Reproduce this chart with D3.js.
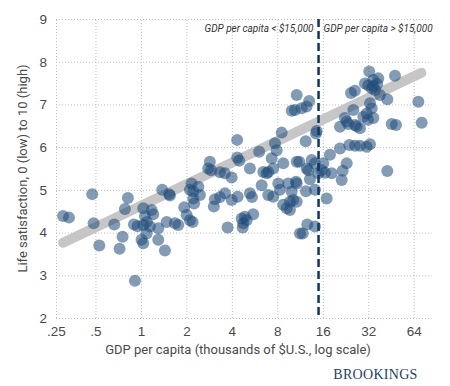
<!DOCTYPE html>
<html>
<head>
<meta charset="utf-8">
<script src="https://cdn.jsdelivr.net/npm/d3@7"></script>
<style>
  body { margin: 0; background: #fff; }
  svg { display: block; font-family: Roboto, sans-serif; }
  .grid line { stroke: #bdbdbd; stroke-dasharray: 1,2; }
  .grid text { fill: #4a4a4a; font-size: 13.5px; }
</style>
</head>
<body>
<div id="viz"></div>
<script>
// GDP per capita, thousands of $US (log scale)
var gdp = [
  0.305, 0.334, 0.476, 0.486, 0.530, 0.666, 0.722, 0.756, 0.784, 0.820,
  0.899, 0.951, 0.913, 1.01, 1.036, 1.036, 1.063, 1.096, 1.036, 1.091,
  1.147, 1.177, 1.206, 1.302, 1.302, 1.442, 1.384, 1.54, 1.556, 1.48,
  1.68, 1.767, 1.936, 2.008, 2.11, 2.20, 2.166, 2.11, 2.22, 2.40,
  2.22, 2.25, 2.46, 2.86, 2.79, 2.91, 3.34, 3.60, 3.99, 4.34,
  4.34, 4.48, 5.27, 6.07, 8.55, 7.72, 7.92, 7.34, 8.76, 7.52,
  6.97, 6.46, 6.80, 6.30, 8.12, 8.33, 9.45, 10.75, 10.63, 3.09,
  3.34, 3.04, 3.60, 3.99, 4.37, 5.27, 5.44, 6.97, 7.52, 8.76,
  9.23, 10.20, 10.75, 9.96, 3.75, 4.65, 4.88, 5.01, 5.54, 4.76,
  4.72, 11.30, 14.58, 14.42, 12.33, 11.18, 12.52, 12.83, 13.51, 14.20,
  16.12, 15.74, 14.94, 16.55, 18.33, 17.85, 20.80, 23.97, 26.14, 28.21,
  31.25, 32.87, 23.04, 21.68, 21.35, 42.78, 13.16, 10.75, 12.38, 14.20,
  9.70, 9.70, 16.98, 12.63, 14.20, 11.78, 20.80, 23.04, 26.14, 31.87,
  45.76, 48.87, 72.3, 32.5, 30.45, 32.0, 33.7, 37.3, 34.6, 36.7,
  34.6, 35.5, 38.3, 48.1, 24.6, 26.1, 42.8, 32.9, 33.7, 25.5,
  68.7, 29.7, 31.3, 34.6, 22.4, 23.6, 28.2, 26.8, 13.0, 12.5,
  11.6, 10.47, 10.75, 9.96
];
// Life satisfaction, 0 to 10
var satisfaction = [
  4.39, 4.35, 4.90, 4.22, 3.70, 4.19, 3.62, 3.90, 4.55, 4.81,
  4.19, 4.15, 2.87, 3.83, 3.75, 4.57, 4.39, 4.25, 4.18, 3.98,
  4.14, 4.53, 4.43, 4.10, 3.83, 3.58, 5.00, 4.90, 4.87, 4.25,
  4.22, 4.18, 4.59, 4.41, 4.29, 4.25, 5.15, 5.00, 4.96, 5.07,
  4.80, 4.68, 4.88, 5.66, 5.50, 5.46, 5.41, 5.39, 5.29, 6.17,
  5.76, 5.68, 5.50, 5.89, 6.34, 6.09, 5.93, 5.74, 5.62, 5.50,
  5.42, 5.42, 5.39, 5.11, 5.15, 5.00, 5.15, 5.66, 5.19, 4.78,
  4.83, 4.61, 4.92, 4.76, 4.84, 4.92, 4.83, 4.88, 4.84, 4.65,
  4.57, 4.76, 4.72, 4.96, 4.12, 4.33, 4.37, 4.29, 4.43, 4.22,
  4.12, 3.98, 6.38, 6.32, 6.14, 5.66, 5.50, 5.46, 5.70, 5.62,
  5.62, 5.46, 5.39, 5.40, 5.39, 5.82, 5.97, 6.05, 6.03, 6.03,
  6.01, 6.07, 5.62, 5.45, 5.23, 5.44, 5.25, 5.15, 4.97, 5.00,
  4.72, 4.53, 4.80, 4.19, 4.14, 3.98, 6.48, 6.60, 6.52, 6.64,
  6.54, 6.52, 6.57, 7.77, 7.49, 7.45, 7.38, 7.61, 7.57, 7.48,
  7.43, 7.34, 7.22, 7.67, 7.27, 7.32, 7.12, 7.03, 6.91, 6.87,
  7.06, 6.71, 6.79, 6.68, 6.68, 6.54, 6.44, 6.49, 7.08, 6.95,
  6.91, 6.87, 7.22, 6.85
];

// fitted trend (ends of the gray band)
var trendGdp = [0.305, 72];
var trendSat = [3.76, 7.74];

var xTicks = [0.25, 0.5, 1, 2, 4, 8, 16, 32, 64];
var xTickLabels = ['.25', '.5', '1', '2', '4', '8', '16', '32', '64'];
var yTicks = [2, 3, 4, 5, 6, 7, 8, 9];

var cutoff = 15;
var cutoffLabels = ['GDP per capita < $15,000', 'GDP per capita > $15,000'];

(function () {
  'use strict';

  var W = 450, H = 386;
  var m = { left: 56, right: 431.7, top: 19, bottom: 318 };

  var svg = d3.select('#viz')
    .append('svg')
    .attr('width', W)
    .attr('height', H);

  var x = d3.scaleLog().base(2)
    .domain([0.274, 84.2])
    .range([m.left, m.right])
    .clamp(true);

  var y = d3.scaleLinear()
    .domain([2, 9])
    .range([m.bottom, m.top]);

  // axes with dotted grid
  var gx = svg.append('g')
    .attr('class', 'grid')
    .attr('transform', 'translate(0,' + m.bottom + ')')
    .call(d3.axisBottom(x)
      .tickValues(xTicks)
      .tickFormat(function (d, i) { return xTickLabels[i]; })
      .tickSize(-(m.bottom - m.top))
      .tickPadding(8));
  gx.select('.domain').remove();

  var gy = svg.append('g')
    .attr('class', 'grid')
    .attr('transform', 'translate(' + m.left + ',0)')
    .call(d3.axisLeft(y)
      .tickValues(yTicks)
      .tickFormat(d3.format('d'))
      .tickSize(-(m.right - m.left))
      .tickPadding(9));
  gy.select('.domain').remove();

  // trend band
  svg.append('line')
    .attr('x1', x(trendGdp[0]))
    .attr('y1', y(trendSat[0]))
    .attr('x2', x(trendGdp[1]))
    .attr('y2', y(trendSat[1]))
    .style('stroke', '#c6c6c6')
    .style('stroke-width', 10)
    .style('stroke-linecap', 'round');

  // countries
  svg.append('g')
    .selectAll('circle')
    .data(d3.range(gdp.length))
    .enter()
    .append('circle')
    .attr('cx', function (i) { return x(gdp[i]); })
    .attr('cy', function (i) { return y(satisfaction[i]); })
    .attr('r', 6)
    .style('fill', '#1d4b78')
    .style('fill-opacity', 0.55);

  // $15,000 divider
  svg.append('line')
    .attr('x1', x(cutoff))
    .attr('x2', x(cutoff))
    .attr('y1', m.top)
    .attr('y2', m.bottom)
    .style('stroke', '#0d3766')
    .style('stroke-width', 2.5)
    .style('stroke-dasharray', '8,4');

  svg.append('text')
    .attr('x', x(cutoff) - 5)
    .attr('y', 32)
    .attr('text-anchor', 'end')
    .style('font-style', 'italic')
    .style('font-size', '10px')
    .style('fill', '#333')
    .text(cutoffLabels[0]);

  svg.append('text')
    .attr('x', x(cutoff) + 5)
    .attr('y', 32)
    .style('font-style', 'italic')
    .style('font-size', '10px')
    .style('fill', '#333')
    .text(cutoffLabels[1]);

  // axis titles
  svg.append('text')
    .attr('x', 238)
    .attr('y', 354)
    .attr('text-anchor', 'middle')
    .style('font-size', '13px')
    .style('fill', '#4a4a4a')
    .text('GDP per capita (thousands of $U.S., log scale)');

  svg.append('text')
    .attr('transform', 'translate(27,' + ((m.top + m.bottom) / 2) + ') rotate(-90)')
    .attr('text-anchor', 'middle')
    .style('font-size', '13px')
    .style('fill', '#4a4a4a')
    .text('Life satisfaction, 0 (low) to 10 (high)');

  svg.append('text')
    .attr('x', 375.5)
    .attr('y', 379)
    .attr('text-anchor', 'middle')
    .style('font-family', '"Liberation Serif", serif')
    .style('font-size', '14px')
    .style('letter-spacing', '0.3px')
    .style('fill', '#1b3f6e')
    .text('BROOKINGS');
}());
</script>
</body>
</html>
